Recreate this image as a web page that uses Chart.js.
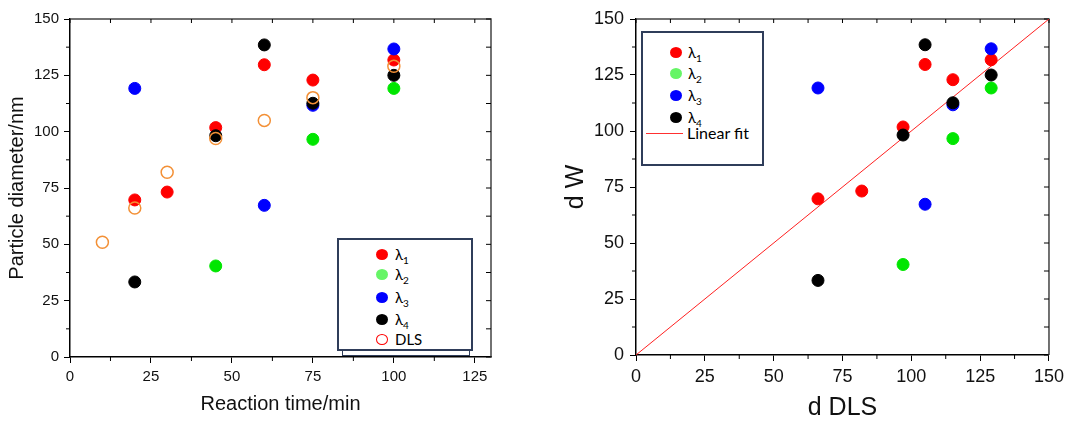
<!DOCTYPE html>
<html>
<head>
<meta charset="utf-8">
<script src="https://cdn.jsdelivr.net/npm/chart.js@4.4.0/dist/chart.umd.min.js"></script>
<style>
body { margin: 0; background: #fff; width: 1069px; height: 421px; position: relative; overflow: hidden; }
#left { position: absolute; left: 0; top: 0; }
#right { position: absolute; left: 560px; top: 0; }
.box { position: absolute; background: #fff; border: 2px solid #2f3d5a; box-sizing: border-box; }
.shadow { position: absolute; background: #fff; border: 1.5px solid #2f3d5a; box-sizing: border-box; }
.item { position: absolute; height: 20px; line-height: 20px; font-family: Lato, "Open Sans", sans-serif; font-size: 15px; color: #000; white-space: nowrap; }
.item sub { font-size: 10px; vertical-align: -4px; line-height: 0; }
.dot { position: absolute; width: 12px; height: 11px; border-radius: 50%; box-sizing: border-box; }
.fitline { position: absolute; height: 1px; background: #ff3030; }
</style>
</head>
<body>
<canvas id="left" width="530" height="421"></canvas>
<canvas id="right" width="509" height="421"></canvas>
<div id="legends"></div>
<script>
// reaction time (min) for each series
const timesL1 = [20, 30, 45, 60, 75, 100];
const valuesL1 = [69.7, 73.2, 101.8, 129.7, 122.9, 131.8];
const timesL2 = [45, 75, 100];
const valuesL2 = [40.4, 96.6, 119.2];
const timesL3 = [20, 60, 75, 100];
const valuesL3 = [119.2, 67.3, 111.7, 136.7];
const timesL4 = [20, 45, 60, 75, 100];
const valuesL4 = [33.3, 98.2, 138.5, 112.6, 125];
const timesDLS = [10, 20, 30, 45, 60, 75, 100];
const valuesDLS = [50.9, 66.1, 82, 97, 105, 115.1, 129];
// linear fit ends (d DLS -> d W)
const fitX = [0, 150];
const fitY = [0, 150];

const seriesNames = ["λ1", "λ2", "λ3", "λ4"];
const seriesColors = ["#ff0000", "#00e600", "#0000ff", "#000000"];
const legendColors = ["#ff0000", "#66f566", "#0000ff", "#000000"];
const dlsColor = "#f39036";

const allTimes = [timesL1, timesL2, timesL3, timesL4];
const allValues = [valuesL1, valuesL2, valuesL3, valuesL4];

function pts(xs, ys) {
    return xs.map((x, i) => ({ x: x, y: ys[i] }));
}

// d DLS for a given reaction time
function dlsAt(t) {
    return valuesDLS[timesDLS.indexOf(t)];
}

// frame + minor ticks
const framePlugin = {
    id: 'frame',
    beforeDatasetsDraw(chart) {
        const ctx = chart.ctx;
        const a = chart.chartArea;
        const xs = chart.scales.x, ys = chart.scales.y;
        ctx.save();
        ctx.strokeStyle = '#444';
        ctx.lineWidth = 1.5;
        ctx.beginPath();
        ctx.moveTo(a.left, a.top); ctx.lineTo(a.right, a.top); ctx.lineTo(a.right, a.bottom);
        ctx.stroke();
        ctx.lineWidth = 1;
        ctx.strokeStyle = '#000';
        ctx.beginPath();
        for (let v = xs.min; v <= xs.max; v += 12.5) {
            const px = xs.getPixelForValue(v);
            if (v % 25 !== 0) { ctx.moveTo(px, a.bottom); ctx.lineTo(px, a.bottom + 4); }
            ctx.moveTo(px, a.top); ctx.lineTo(px, a.top + 4);
        }
        for (let v = ys.min; v <= ys.max; v += 12.5) {
            const py = ys.getPixelForValue(v);
            if (v % 25 !== 0) { ctx.moveTo(a.left, py); ctx.lineTo(a.left - 4, py); }
            ctx.moveTo(a.right, py); ctx.lineTo(a.right - 5, py);
        }
        ctx.stroke();
        ctx.restore();
    }
};

function scaleOpts(min, max, tickSize, title, titleSize, fixed, padTitle, vertical) {
    return {
        type: 'linear',
        min: min,
        max: max,
        afterFit(scale) {
            if (vertical) scale.width = fixed; else scale.height = fixed;
        },
        ticks: {
            stepSize: 25,
            includeBounds: false,
            color: '#111',
            padding: 5,
            font: { family: 'Liberation Sans', size: tickSize }
        },
        grid: { drawOnChartArea: false, drawTicks: true, tickLength: 6, color: '#000' },
        border: { display: true, color: '#000', width: 1.5 },
        title: {
            display: true,
            text: title,
            color: '#111',
            padding: padTitle,
            font: { family: 'Liberation Sans', size: titleSize, lineHeight: 1.2 }
        }
    };
}

// left chart
const leftSets = allTimes.map((t, i) => ({
    label: seriesNames[i],
    data: pts(t, allValues[i]),
    backgroundColor: seriesColors[i],
    borderColor: seriesColors[i],
    pointRadius: 6,
    order: 5 - i
}));
leftSets.push({
    label: 'DLS',
    data: pts(timesDLS, valuesDLS),
    backgroundColor: 'rgba(0,0,0,0)',
    borderColor: dlsColor,
    borderWidth: 1.5,
    pointRadius: 6,
    order: 1
});

new Chart(document.getElementById('left'), {
    type: 'scatter',
    data: { datasets: leftSets },
    options: {
        responsive: false,
        animation: false,
        layout: { padding: { left: 0, right: 39, top: 19, bottom: 0 } },
        plugins: { legend: { display: false }, tooltip: { enabled: false } },
        scales: {
            x: scaleOpts(0, 130, 15, 'Reaction time/min', 20, 64, { top: 0, bottom: 5 }, false),
            y: scaleOpts(0, 150, 15, 'Particle diameter/nm', 20, 70, { top: 5, bottom: 0 }, true)
        }
    },
    plugins: [framePlugin]
});

// right chart
const rightSets = allTimes.map((t, i) => ({
    type: 'scatter',
    label: seriesNames[i],
    data: pts(t.map(dlsAt), allValues[i]),
    backgroundColor: seriesColors[i],
    borderColor: seriesColors[i],
    pointRadius: 6,
    order: 5 - i
}));
rightSets.push({
    type: 'line',
    label: 'Linear fit',
    data: pts(fitX, fitY),
    borderColor: '#ff2020',
    borderWidth: 1,
    pointRadius: 0,
    order: 10
});

const rx = scaleOpts(0, 150, 18, 'd DLS', 25, 66, { top: 0, bottom: 0 }, false);
rx.title.font.lineHeight = 1;
const ry = scaleOpts(0, 150, 18, 'd W', 25, 76, { top: 4, bottom: 0 }, true);
ry.title.font.lineHeight = 1;
ry.ticks.padding = 6;

new Chart(document.getElementById('right'), {
    type: 'scatter',
    data: { datasets: rightSets },
    options: {
        responsive: false,
        animation: false,
        layout: { padding: { left: 0, right: 20, top: 19, bottom: 0 } },
        plugins: { legend: { display: false }, tooltip: { enabled: false } },
        scales: { x: rx, y: ry }
    },
    plugins: [framePlugin]
});

// html legends (subscripts)
const lg = document.getElementById('legends');
function addBox(cls, l, t, w, h) {
    const d = document.createElement('div');
    d.className = cls;
    d.style.cssText = `left:${l}px;top:${t}px;width:${w}px;height:${h}px`;
    lg.appendChild(d);
}
function addItem(dotX, textX, cy, color, hollow, html) {
    const dot = document.createElement('div');
    dot.className = 'dot';
    dot.style.left = (dotX - 6) + 'px';
    dot.style.top = (cy - 5.5) + 'px';
    if (hollow) dot.style.border = '1.5px solid ' + color;
    else dot.style.background = color;
    lg.appendChild(dot);
    const t = document.createElement('div');
    t.className = 'item';
    t.style.left = textX + 'px';
    t.style.top = (cy - 10) + 'px';
    t.innerHTML = html;
    lg.appendChild(t);
}
function nameHtml(n) {
    return n.replace(/(\d)$/, '<sub>$1</sub>');
}

addBox('shadow', 342, 300, 128, 56);
addBox('box', 337, 238, 136, 113);
const leftRows = [254, 274, 297, 319];
seriesNames.forEach((n, i) => addItem(382, 395, leftRows[i], legendColors[i], false, nameHtml(n)));
addItem(382, 395, 339, '#ff0000', true, 'DLS');

addBox('box', 641, 31, 123, 135);
const rightRows = [52, 73, 95, 117];
seriesNames.forEach((n, i) => addItem(676, 688, rightRows[i], legendColors[i], false, nameHtml(n)));
const fl = document.createElement('div');
fl.className = 'fitline';
fl.style.cssText = 'left:646px;top:133px;width:37px';
lg.appendChild(fl);
const ft = document.createElement('div');
ft.className = 'item';
ft.style.cssText = 'left:687px;top:123px;font-size:16px';
ft.textContent = 'Linear fit';
lg.appendChild(ft);
</script>
</body>
</html>
